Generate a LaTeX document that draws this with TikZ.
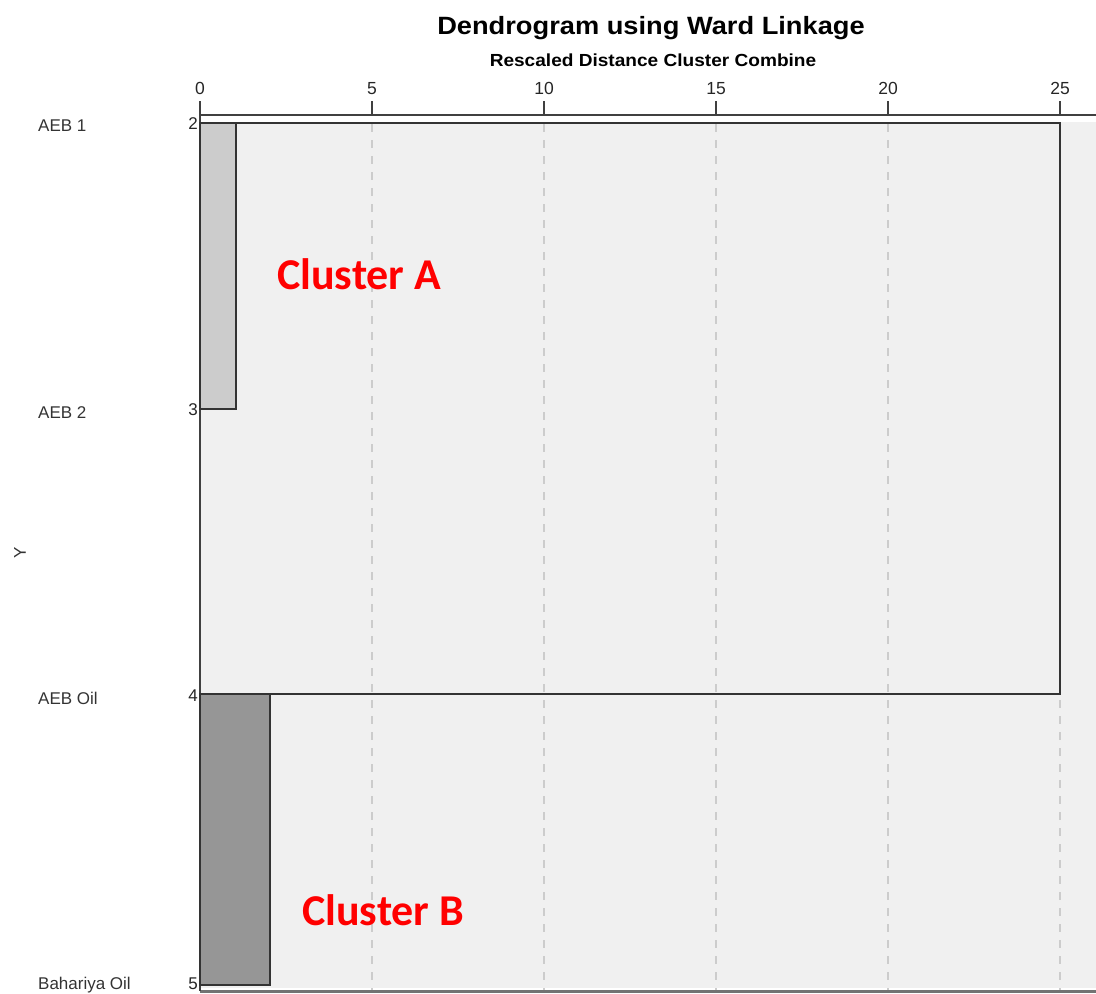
\documentclass[tikz,border=0pt]{standalone}
\usepackage{fontspec}
\setmainfont{Liberation Sans}
\newfontfamily\calfont{Carlito}
\begin{document}
\begin{tikzpicture}[x=1pt,y=-1pt,
  leaf/.style={anchor=west,inner sep=0pt,font=\fontsize{17}{17}\selectfont,text=black!80},
  num/.style={anchor=east,inner sep=0pt,font=\fontsize{17}{17}\selectfont,text=black!85},
  ticklbl/.style={anchor=south,inner sep=0pt,font=\fontsize{17.5}{17.5}\selectfont,text=black!85},
  axisline/.style={draw=black!75,line width=2pt},
  gridline/.style={draw=black!20,line width=1.6pt,dash pattern=on 8pt off 8pt},
  linkbox/.style={draw=black!80,line width=2pt},
  clabel/.style={inner sep=0pt,anchor=base west,text=red,font=\calfont\bfseries\fontsize{44}{44}\selectfont}
]
\useasboundingbox (0,0) rectangle (1096,994);
% plot area
\fill[black!6] (200,122) rectangle (1096,988);
\foreach \v in {5,10,15,20,25}
  \draw[gridline] ({200+34.4*\v},124) -- ({200+34.4*\v},990);
% bottom and left axes
\draw[draw=black!55,line width=3pt] (200,991) -- (1096,991);
% top axis with ticks
\draw[axisline] (200,115) -- (1096,115);
\draw[axisline] (200,101) -- (200,991);
\foreach \v in {0,5,10,15,20,25}{
  \draw[axisline] ({200+34.4*\v},101) -- ({200+34.4*\v},115);
  \node[ticklbl] (t\v) at ({200+34.4*\v},95) {\v};
}
% title
\node[inner sep=0pt,anchor=base] (title) at (651,34) {\scalebox{1.09}[1]{\fontsize{25}{25}\selectfont\bfseries Dendrogram using Ward Linkage}};
\node[inner sep=0pt,anchor=base] (subtitle) at (653,66) {\scalebox{1.09}[1]{\fontsize{17.5}{17.5}\selectfont\bfseries Rescaled Distance Cluster Combine}};
% leaf coordinates
\coordinate (p2) at (200,123);
\coordinate (p3) at (200,409);
\coordinate (p4) at (200,694);
\coordinate (p5) at (200,985);
% merges
\draw[linkbox,fill=black!20] (p2) rectangle (236,409);
\draw[linkbox,fill=black!41] (p4) rectangle (270,985);
\draw[linkbox] (p2) -- (1060,123) -- (1060,694) -- (p4);
% leaf labels
\node[leaf] (l2) at (38,126) {AEB 1};
\node[leaf] (l3) at (38,413) {AEB 2};
\node[leaf] (l4) at (38,698) {AEB Oil};
\node[leaf] (l5) at (38,985) {Bahariya Oil};
\node[num] (n2) at (198,124) {2};
\node[num] (n3) at (198,410) {3};
\node[num] (n4) at (198,696) {4};
\node[num] (n5) at (198,984) {5};
\node[inner sep=0pt,rotate=90,font=\fontsize{17}{17}\selectfont,text=black!80] (yl) at (20,553) {Y};
% cluster labels
\node[clabel] (ca) at (277,289) {Cluster A};
\node[clabel] (cb) at (302,925) {Cluster B};
\end{tikzpicture}
\end{document}
